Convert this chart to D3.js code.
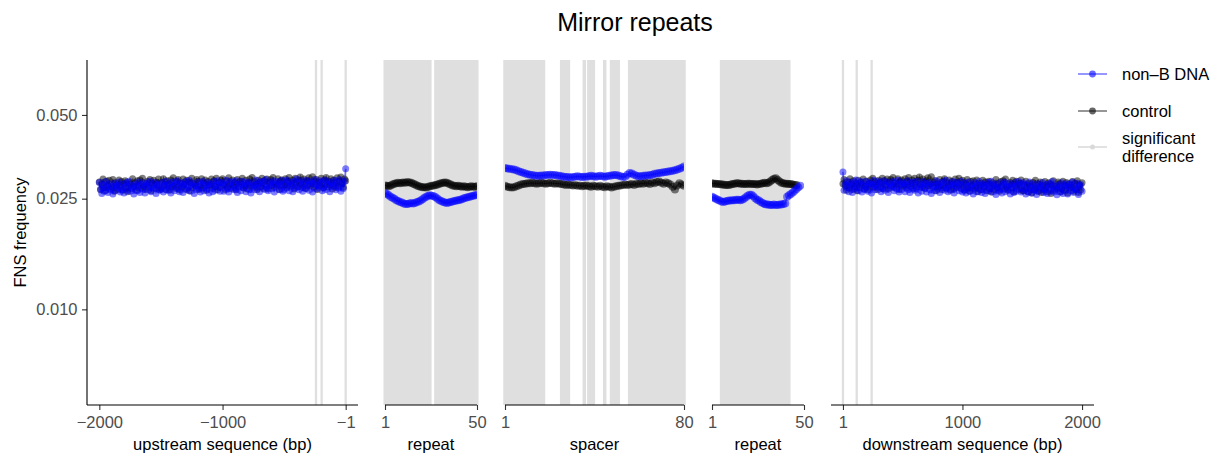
<!DOCTYPE html>
<html>
<head>
<meta charset="utf-8">
<script src="https://cdn.jsdelivr.net/npm/d3@7"></script>
<style>
body { margin: 0; background: #fff; }
text { font-family: "Liberation Sans", Arial, sans-serif; }
</style>
</head>
<body>
<svg id="chart" width="1218" height="460"></svg>
<script>
// ---- data (FNS frequency per position) ----
// flanks sampled every 10 bp
var upPos = d3.range(-2000, 0, 10).concat([-1]);
var downPos = [1].concat(d3.range(10, 2001, 10));

var upBlue = [
  0.0286,0.0271,0.0261,0.0280,0.0266,0.0288,0.0274,0.0263,0.0283,0.0269,
  0.0277,0.0260,0.0284,0.0267,0.0279,0.0273,0.0287,0.0264,0.0270,0.0282,
  0.0262,0.0276,0.0285,0.0268,0.0289,0.0266,0.0279,0.0273,0.0260,0.0282,
  0.0276,0.0267,0.0287,0.0263,0.0281,0.0271,0.0285,0.0262,0.0278,0.0284,
  0.0269,0.0289,0.0265,0.0275,0.0272,0.0286,0.0261,0.0280,0.0283,0.0268,
  0.0271,0.0286,0.0264,0.0279,0.0289,0.0268,0.0275,0.0283,0.0262,0.0287,
  0.0276,0.0267,0.0282,0.0290,0.0272,0.0265,0.0285,0.0278,0.0263,0.0281,
  0.0288,0.0269,0.0274,0.0291,0.0266,0.0280,0.0284,0.0261,0.0277,0.0270,
  0.0287,0.0273,0.0264,0.0283,0.0289,0.0267,0.0279,0.0271,0.0286,0.0262,
  0.0282,0.0276,0.0265,0.0288,0.0268,0.0280,0.0290,0.0274,0.0266,0.0285,
  0.0284,0.0266,0.0279,0.0291,0.0271,0.0264,0.0286,0.0276,0.0288,0.0269,
  0.0273,0.0290,0.0263,0.0282,0.0277,0.0267,0.0289,0.0274,0.0285,0.0265,
  0.0280,0.0287,0.0270,0.0262,0.0283,0.0279,0.0269,0.0292,0.0273,0.0282,
  0.0265,0.0287,0.0276,0.0289,0.0270,0.0293,0.0274,0.0267,0.0280,0.0285,
  0.0272,0.0290,0.0264,0.0281,0.0288,0.0277,0.0269,0.0283,0.0291,0.0266,
  0.0270,0.0283,0.0292,0.0277,0.0267,0.0287,0.0280,0.0265,0.0289,0.0273,
  0.0294,0.0276,0.0269,0.0285,0.0290,0.0266,0.0281,0.0272,0.0291,0.0278,
  0.0268,0.0288,0.0284,0.0264,0.0282,0.0293,0.0271,0.0279,0.0275,0.0290,
  0.0286,0.0267,0.0274,0.0292,0.0270,0.0281,0.0289,0.0265,0.0285,0.0276,
  0.0278,0.0291,0.0269,0.0287,0.0273,0.0293,0.0266,0.0283,0.0272,0.0288,
  0.0320
];
var upBlack = [
  0.0287,0.0269,0.0282,0.0294,0.0274,0.0267,0.0289,0.0279,0.0291,0.0272,
  0.0276,0.0293,0.0266,0.0285,0.0280,0.0270,0.0292,0.0277,0.0288,0.0268,
  0.0283,0.0290,0.0273,0.0265,0.0286,0.0282,0.0272,0.0295,0.0276,0.0285,
  0.0268,0.0290,0.0279,0.0292,0.0273,0.0296,0.0277,0.0270,0.0283,0.0288,
  0.0275,0.0293,0.0267,0.0284,0.0291,0.0280,0.0272,0.0286,0.0294,0.0269,
  0.0273,0.0286,0.0295,0.0280,0.0270,0.0290,0.0283,0.0268,0.0292,0.0276,
  0.0297,0.0279,0.0272,0.0288,0.0293,0.0269,0.0284,0.0275,0.0294,0.0281,
  0.0271,0.0291,0.0287,0.0267,0.0285,0.0296,0.0274,0.0282,0.0278,0.0293,
  0.0289,0.0270,0.0277,0.0295,0.0273,0.0284,0.0292,0.0268,0.0288,0.0279,
  0.0281,0.0294,0.0272,0.0290,0.0276,0.0296,0.0269,0.0286,0.0275,0.0291,
  0.0295,0.0280,0.0270,0.0289,0.0275,0.0297,0.0283,0.0272,0.0292,0.0278,
  0.0286,0.0269,0.0293,0.0276,0.0288,0.0282,0.0296,0.0273,0.0279,0.0291,
  0.0271,0.0285,0.0294,0.0277,0.0298,0.0275,0.0288,0.0282,0.0269,0.0291,
  0.0285,0.0276,0.0296,0.0272,0.0290,0.0280,0.0294,0.0271,0.0287,0.0293,
  0.0278,0.0298,0.0274,0.0284,0.0281,0.0295,0.0270,0.0289,0.0292,0.0277,
  0.0280,0.0295,0.0273,0.0288,0.0298,0.0277,0.0284,0.0292,0.0271,0.0296,
  0.0285,0.0276,0.0291,0.0299,0.0281,0.0274,0.0294,0.0287,0.0272,0.0290,
  0.0297,0.0278,0.0283,0.0300,0.0275,0.0289,0.0293,0.0270,0.0286,0.0279,
  0.0296,0.0282,0.0273,0.0292,0.0298,0.0276,0.0288,0.0280,0.0295,0.0271,
  0.0291,0.0285,0.0274,0.0297,0.0277,0.0289,0.0299,0.0283,0.0275,0.0294,
  0.0290
];
var rep1Blue = [
  0.0262,0.0260,0.0257,0.0254,0.0252,0.0250,0.0247,0.0245,0.0243,0.0242,
  0.0240,0.0239,0.0239,0.0240,0.0241,0.0240,0.0241,0.0243,0.0244,0.0246,
  0.0249,0.0252,0.0254,0.0256,0.0257,0.0256,0.0255,0.0253,0.0250,0.0247,
  0.0245,0.0243,0.0242,0.0241,0.0242,0.0243,0.0244,0.0245,0.0246,0.0247,
  0.0248,0.0249,0.0251,0.0252,0.0253,0.0254,0.0255,0.0256,0.0257,0.0258
];
var rep1Black = [
  0.0279,0.0278,0.0277,0.0279,0.0281,0.0283,0.0284,0.0285,0.0284,0.0285,
  0.0286,0.0285,0.0287,0.0286,0.0285,0.0283,0.0281,0.0279,0.0277,0.0276,
  0.0275,0.0275,0.0274,0.0276,0.0277,0.0278,0.0279,0.0280,0.0281,0.0283,
  0.0284,0.0285,0.0286,0.0285,0.0283,0.0281,0.0279,0.0278,0.0277,0.0278,
  0.0277,0.0276,0.0277,0.0276,0.0275,0.0276,0.0277,0.0276,0.0276,0.0277
];
var spacerBlue = [
  0.0322,0.0321,0.0320,0.0319,0.0318,0.0316,0.0314,0.0312,0.0310,0.0308,
  0.0306,0.0305,0.0304,0.0303,0.0302,0.0302,0.0303,0.0303,0.0304,0.0304,
  0.0305,0.0304,0.0304,0.0303,0.0302,0.0301,0.0300,0.0299,0.0299,0.0298,
  0.0299,0.0300,0.0301,0.0300,0.0299,0.0300,0.0300,0.0301,0.0302,0.0301,
  0.0300,0.0301,0.0302,0.0301,0.0300,0.0301,0.0302,0.0303,0.0304,0.0304,
  0.0303,0.0301,0.0299,0.0300,0.0305,0.0309,0.0308,0.0305,0.0302,0.0301,
  0.0301,0.0302,0.0303,0.0303,0.0304,0.0305,0.0307,0.0308,0.0309,0.0310,
  0.0311,0.0312,0.0313,0.0314,0.0315,0.0316,0.0318,0.0320,0.0323,0.0326
];
var spacerBlack = [
  0.0278,0.0276,0.0275,0.0274,0.0275,0.0277,0.0279,0.0281,0.0282,0.0283,
  0.0284,0.0284,0.0285,0.0284,0.0283,0.0284,0.0285,0.0284,0.0283,0.0284,
  0.0285,0.0284,0.0283,0.0284,0.0283,0.0282,0.0281,0.0280,0.0281,0.0280,
  0.0279,0.0280,0.0278,0.0279,0.0277,0.0278,0.0279,0.0277,0.0276,0.0278,
  0.0277,0.0276,0.0278,0.0276,0.0275,0.0277,0.0276,0.0274,0.0276,0.0277,
  0.0278,0.0279,0.0280,0.0281,0.0280,0.0281,0.0282,0.0280,0.0283,0.0282,
  0.0284,0.0283,0.0285,0.0284,0.0282,0.0286,0.0284,0.0287,0.0288,0.0285,
  0.0283,0.0286,0.0284,0.0281,0.0276,0.0270,0.0279,0.0284,0.0281,0.0278
];
var rep2Blue = [
  0.0254,0.0252,0.0250,0.0248,0.0246,0.0244,0.0243,0.0244,0.0245,0.0246,
  0.0246,0.0247,0.0247,0.0248,0.0248,0.0247,0.0248,0.0250,0.0253,0.0256,
  0.0258,0.0258,0.0255,0.0251,0.0248,0.0246,0.0243,0.0241,0.0239,0.0238,
  0.0238,0.0237,0.0237,0.0238,0.0237,0.0237,0.0238,0.0238,0.0239,0.0240,
  0.0254,0.0257,0.0260,0.0263,0.0267,0.0271,0.0275,0.0278
];
var rep2Black = [
  0.0284,0.0283,0.0283,0.0282,0.0282,0.0281,0.0281,0.0280,0.0280,0.0280,
  0.0281,0.0282,0.0283,0.0284,0.0284,0.0283,0.0283,0.0282,0.0282,0.0283,
  0.0283,0.0282,0.0282,0.0282,0.0281,0.0282,0.0283,0.0284,0.0285,0.0284,
  0.0285,0.0288,0.0292,0.0295,0.0296,0.0292,0.0288,0.0285,0.0284,0.0283,
  0.0283,0.0282,0.0282,0.0281,0.0280,0.0280
];
var downBlue = [
  0.0312,
  0.0268,0.0281,0.0290,0.0275,0.0265,0.0285,0.0278,0.0263,0.0287,0.0271,
  0.0292,0.0274,0.0267,0.0283,0.0288,0.0264,0.0279,0.0270,0.0289,0.0276,
  0.0266,0.0286,0.0282,0.0262,0.0280,0.0291,0.0269,0.0277,0.0273,0.0288,
  0.0284,0.0265,0.0272,0.0290,0.0268,0.0279,0.0287,0.0263,0.0283,0.0274,
  0.0276,0.0289,0.0267,0.0285,0.0271,0.0291,0.0264,0.0281,0.0270,0.0286,
  0.0283,0.0265,0.0278,0.0290,0.0270,0.0263,0.0285,0.0275,0.0287,0.0268,
  0.0272,0.0289,0.0262,0.0281,0.0276,0.0266,0.0288,0.0273,0.0284,0.0264,
  0.0279,0.0286,0.0269,0.0261,0.0282,0.0277,0.0267,0.0290,0.0271,0.0280,
  0.0263,0.0285,0.0274,0.0287,0.0268,0.0291,0.0272,0.0265,0.0278,0.0283,
  0.0270,0.0288,0.0262,0.0279,0.0286,0.0275,0.0267,0.0281,0.0289,0.0264,
  0.0269,0.0284,0.0262,0.0277,0.0287,0.0266,0.0273,0.0281,0.0260,0.0285,
  0.0274,0.0265,0.0280,0.0288,0.0270,0.0263,0.0283,0.0276,0.0261,0.0279,
  0.0286,0.0267,0.0272,0.0289,0.0264,0.0278,0.0282,0.0259,0.0275,0.0268,
  0.0285,0.0271,0.0262,0.0281,0.0287,0.0265,0.0277,0.0269,0.0284,0.0260,
  0.0280,0.0274,0.0263,0.0286,0.0266,0.0278,0.0288,0.0272,0.0264,0.0283,
  0.0285,0.0270,0.0260,0.0279,0.0265,0.0287,0.0273,0.0262,0.0282,0.0268,
  0.0276,0.0259,0.0283,0.0266,0.0278,0.0272,0.0286,0.0263,0.0269,0.0281,
  0.0261,0.0275,0.0284,0.0267,0.0288,0.0264,0.0277,0.0271,0.0258,0.0280,
  0.0274,0.0265,0.0285,0.0261,0.0279,0.0269,0.0283,0.0260,0.0276,0.0282,
  0.0267,0.0287,0.0263,0.0273,0.0270,0.0284,0.0259,0.0278,0.0281,0.0266
];
var downBlack = [
  0.0283,
  0.0293,0.0278,0.0268,0.0287,0.0273,0.0295,0.0281,0.0270,0.0290,0.0276,
  0.0284,0.0267,0.0291,0.0274,0.0286,0.0280,0.0294,0.0271,0.0277,0.0289,
  0.0269,0.0283,0.0292,0.0275,0.0296,0.0275,0.0288,0.0282,0.0269,0.0291,
  0.0285,0.0276,0.0296,0.0272,0.0290,0.0280,0.0294,0.0271,0.0287,0.0293,
  0.0278,0.0298,0.0274,0.0284,0.0281,0.0295,0.0270,0.0289,0.0292,0.0277,
  0.0280,0.0295,0.0273,0.0288,0.0298,0.0277,0.0284,0.0292,0.0271,0.0296,
  0.0285,0.0276,0.0291,0.0299,0.0281,0.0274,0.0294,0.0287,0.0272,0.0290,
  0.0297,0.0278,0.0283,0.0300,0.0275,0.0286,0.0290,0.0267,0.0283,0.0276,
  0.0293,0.0279,0.0270,0.0289,0.0295,0.0273,0.0285,0.0277,0.0292,0.0268,
  0.0288,0.0282,0.0271,0.0294,0.0274,0.0286,0.0296,0.0280,0.0272,0.0291,
  0.0286,0.0268,0.0281,0.0293,0.0273,0.0266,0.0288,0.0278,0.0290,0.0271,
  0.0275,0.0292,0.0265,0.0284,0.0279,0.0269,0.0291,0.0276,0.0287,0.0267,
  0.0282,0.0289,0.0272,0.0264,0.0285,0.0280,0.0270,0.0293,0.0274,0.0283,
  0.0266,0.0288,0.0277,0.0290,0.0271,0.0294,0.0275,0.0268,0.0281,0.0286,
  0.0273,0.0291,0.0265,0.0282,0.0289,0.0278,0.0270,0.0284,0.0292,0.0267,
  0.0267,0.0280,0.0289,0.0274,0.0264,0.0284,0.0277,0.0262,0.0286,0.0270,
  0.0291,0.0273,0.0266,0.0282,0.0287,0.0263,0.0278,0.0269,0.0288,0.0275,
  0.0265,0.0285,0.0281,0.0261,0.0279,0.0290,0.0268,0.0276,0.0272,0.0287,
  0.0283,0.0264,0.0271,0.0289,0.0267,0.0278,0.0286,0.0262,0.0282,0.0273,
  0.0275,0.0288,0.0266,0.0284,0.0270,0.0290,0.0263,0.0280,0.0269,0.0285
];

// positions with a significant difference, as [from, to] runs
var sigUp = [[-242, -242], [-196, -196], [-1, -1]];
var sigRep1 = [[1, 25], [28, 50]];
var sigSpacer = [[1, 18], [26, 29], [36, 36], [38, 40], [45, 45], [48, 51], [56, 80]];
var sigRep2 = [[6, 42]];
var sigDown = [[1, 1], [116, 116], [241, 241]];

var yTicks = [0.010, 0.025, 0.050];
var legendLabels = ["non\u2013B DNA", "control", "significant|difference"];

// ---- layout ----
var top_y = 60, bot_y = 405;
var svg = d3.select("#chart");

var y = d3.scaleLog().domain([0.00453, 0.0788]).range([bot_y, top_y]);

var panels = [
  {x0: 87,  x1: 358,  dom: [-2000, -1], expand: true,  ticks: [-2000, -1000, -1], title: "upstream sequence (bp)",
   pos: upPos, blue: upBlue, black: upBlack, sig: sigUp},
  {x0: 385, x1: 477,  dom: [1, 50], expand: false, ticks: [1, 50], title: "repeat",
   pos: d3.range(1, 51), blue: rep1Blue, black: rep1Black, sig: sigRep1},
  {x0: 505, x1: 684,  dom: [1, 80], expand: false, ticks: [1, 80], title: "spacer",
   pos: d3.range(1, 81), blue: spacerBlue, black: spacerBlack, sig: sigSpacer},
  {x0: 712, x1: 804,  dom: [1, 50], expand: false, ticks: [1, 50], title: "repeat",
   pos: d3.range(1, 51), blue: rep2Blue, black: rep2Black, sig: sigRep2},
  {x0: 831, x1: 1094, dom: [1, 2000], expand: true, ticks: [1, 1000, 2000], title: "downstream sequence (bp)",
   pos: downPos, blue: downBlue, black: downBlack, sig: sigDown}
];

var fmtX = function(d) { return d < 0 ? "\u2212" + Math.abs(d) : String(d); };
var tickFont = "16.5px";
var labelFont = "16.5px";

panels.forEach(function(p, i) {
  var pad = p.expand ? (p.x1 - p.x0) * 0.05 / 1.1 : 0;
  var x = d3.scaleLinear().domain(p.dom).range([p.x0 + pad, p.x1 - pad]);
  var bpw = Math.abs(x(2) - x(1));
  var hw = Math.max(1.15, bpw / 2 + 0.6);
  var dense = p.pos.length > 100;

  var g = svg.append("g").attr("class", "panel");

  // significant difference shading
  g.selectAll("rect.sig")
    .data(p.sig)
    .enter()
    .append("rect")
    .attr("class", "sig")
    .attr("x", function(d) { return x(d[0]) - hw; })
    .attr("width", function(d) { return x(d[1]) - x(d[0]) + 2 * hw; })
    .attr("y", top_y)
    .attr("height", bot_y - top_y)
    .attr("fill", "#dfdfdf");

  svg.append("clipPath").attr("id", "clip" + i)
    .append("rect")
    .attr("x", p.x0).attr("y", top_y)
    .attr("width", p.x1 - p.x0).attr("height", bot_y - top_y);

  var gd = g.append("g").attr("clip-path", "url(#clip" + i + ")");

  var series = [{vals: p.black, col: "#000000"}, {vals: p.blue, col: "#0000ff"}];
  series.forEach(function(s) {
    var pts = s.vals.map(function(v, j) { return [p.pos[j], v]; });
    gd.append("path")
      .datum(pts)
      .attr("d", d3.line().x(function(d) { return x(d[0]); }).y(function(d) { return y(d[1]); }))
      .attr("fill", "none")
      .attr("stroke", s.col)
      .attr("stroke-opacity", 0.5)
      .attr("stroke-width", dense ? 1.6 : 1.2);
    gd.selectAll(null)
      .data(pts)
      .enter()
      .append("circle")
      .attr("cx", function(d) { return x(d[0]); })
      .attr("cy", function(d) { return y(d[1]); })
      .attr("r", dense ? 3.5 : 4)
      .attr("fill", s.col)
      .attr("fill-opacity", 0.5);
  });

  // x axis
  var ax = g.append("g")
    .attr("transform", "translate(0," + bot_y + ")")
    .call(d3.axisBottom(x).tickValues(p.ticks).tickSize(5).tickPadding(6).tickFormat(fmtX));
  ax.select(".domain").remove();
  ax.selectAll(".tick line").attr("stroke", "#333").attr("stroke-width", 1.1);
  ax.selectAll(".tick text")
    .attr("fill", "#4d4d4d")
    .style("font-size", tickFont)
    .style("font-family", "'Liberation Sans', Arial, sans-serif");
  g.append("line")
    .attr("x1", p.x0).attr("x2", p.x1)
    .attr("y1", bot_y).attr("y2", bot_y)
    .attr("stroke", "#000").attr("stroke-width", 1.1);

  g.append("text")
    .attr("x", (p.x0 + p.x1) / 2)
    .attr("y", 450)
    .attr("text-anchor", "middle")
    .style("font-size", labelFont)
    .attr("fill", "#000")
    .text(p.title);

  // y axis only on the first panel
  if (i === 0) {
    var ay = g.append("g")
      .attr("transform", "translate(" + p.x0 + ",0)")
      .call(d3.axisLeft(y).tickValues(yTicks).tickSize(5).tickPadding(4.5).tickFormat(d3.format(".3f")));
    ay.select(".domain").remove();
    ay.selectAll(".tick line").attr("stroke", "#333").attr("stroke-width", 1.1);
    ay.selectAll(".tick text")
      .attr("fill", "#4d4d4d")
      .style("font-size", tickFont)
      .style("font-family", "'Liberation Sans', Arial, sans-serif");
    g.append("line")
      .attr("x1", p.x0).attr("x2", p.x0)
      .attr("y1", top_y).attr("y2", bot_y)
      .attr("stroke", "#000").attr("stroke-width", 1.1);
  }
});

// axis titles + title
svg.append("text")
  .attr("transform", "translate(26," + (top_y + bot_y) / 2 + ") rotate(-90)")
  .attr("text-anchor", "middle")
  .style("font-size", labelFont)
  .text("FNS frequency");

svg.append("text")
  .attr("x", 635)
  .attr("y", 31)
  .attr("text-anchor", "middle")
  .style("font-size", "25px")
  .text("Mirror repeats");

// legend
var legendCols = ["#0000ff", "#000000", "#d9d9d9"];
var legendY = [74, 111, 147];
var lg = svg.append("g").attr("class", "legend");
legendLabels.forEach(function(lab, i) {
  lg.append("line")
    .attr("x1", 1078).attr("x2", 1107)
    .attr("y1", legendY[i]).attr("y2", legendY[i])
    .attr("stroke", legendCols[i])
    .attr("stroke-opacity", i === 2 ? 1 : 0.55)
    .attr("stroke-width", 1.5);
  lg.append("circle")
    .attr("cx", 1092.5).attr("cy", legendY[i])
    .attr("r", i === 2 ? 2.5 : 3.4)
    .attr("fill", legendCols[i])
    .attr("fill-opacity", i === 2 ? 1 : 0.6);
  var parts = lab.split("|");
  var t = lg.append("text")
    .attr("x", 1122)
    .attr("y", legendY[i] + 5.5 - (parts.length - 1) * 9)
    .style("font-size", "16.5px")
    .attr("fill", "#000");
  parts.forEach(function(s, k) {
    t.append("tspan").attr("x", 1122).attr("dy", k === 0 ? 0 : 18).text(s);
  });
});
</script>
</body>
</html>
